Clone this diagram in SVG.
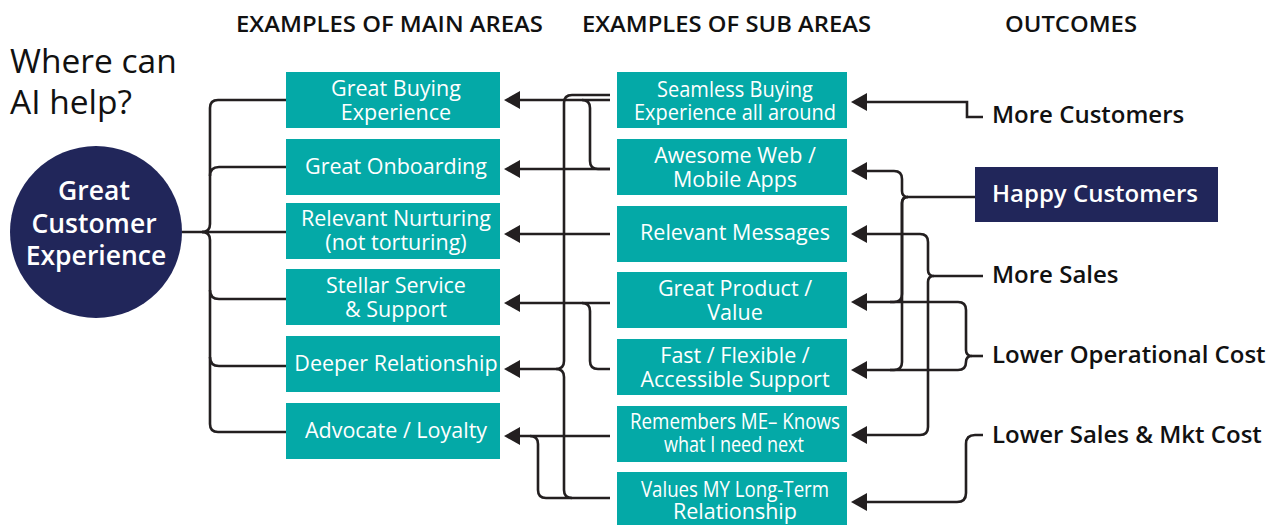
<svg xmlns="http://www.w3.org/2000/svg" width="1277" height="525" viewBox="0 0 1277 525">
<style>
.hdr{font-family:"Open Sans","Liberation Sans",sans-serif;font-size:22px;font-weight:600;fill:#111;text-anchor:middle}
.box{fill:#04a9a7}
.bt{font-family:"Open Sans","Liberation Sans",sans-serif;font-size:21.5px;fill:#fff;text-anchor:middle}
.ct{font-family:"Open Sans","Liberation Sans",sans-serif;font-size:26.5px;font-weight:600;fill:#fff;text-anchor:middle}
.out{font-family:"Open Sans","Liberation Sans",sans-serif;font-size:24px;font-weight:600;fill:#111}
.ttl{font-family:"Open Sans","Liberation Sans",sans-serif;font-size:33.5px;fill:#111}
.ln{fill:none;stroke:#231f20;stroke-width:2.6}
.ar{marker-end:url(#ah)}
</style>
<defs>
<marker id="ah" markerUnits="userSpaceOnUse" markerWidth="16" markerHeight="18" refX="11" refY="9" orient="auto" viewBox="0 0 16 18">
<path d="M0,0 L16,9 L0,18 z" fill="#231f20"/>
</marker>
</defs>
<rect width="1277" height="525" fill="#fff"/>

<g id="headers">
<text class="hdr" x="389.5" y="32" textLength="307" lengthAdjust="spacingAndGlyphs">EXAMPLES OF MAIN AREAS</text>
<text class="hdr" x="726.5" y="32" textLength="289" lengthAdjust="spacingAndGlyphs">EXAMPLES OF SUB AREAS</text>
<text class="hdr" x="1071" y="32" textLength="132" lengthAdjust="spacingAndGlyphs">OUTCOMES</text>
</g>

<g id="title">
<text class="ttl" x="10" y="73">Where can</text>
<text class="ttl" x="10" y="114">AI help?</text>
</g>

<g id="connectors">
<!-- left tree -->
<path class="ln" d="M182,232 H286" stroke-width="3.2"/>
<path class="ln" d="M286,100 H218 Q210,100 210,108 V224 Q210,232 202,232"/>
<path class="ln" d="M202,232 Q210,232 210,240 V424 Q210,432 218,432 H286"/>
<path class="ln" d="M210,176 Q210,167 219,167 H286"/>
<path class="ln" d="M210,290 Q210,299 219,299 H286"/>
<path class="ln" d="M210,357 Q210,366 219,366 H286"/>
<!-- middle -->
<path class="ln ar" d="M610,100 H509"/>
<path class="ln" d="M610,95 H572 Q564,95 564,103 V361 Q564,369 556,369"/>
<path class="ln ar" d="M556,369 H509"/>
<path class="ln" d="M556,369 Q564,369 564,377 V490 Q564,498 572,498"/>
<path class="ln" d="M610,169 H598 Q590,169 590,161 V108 Q590,100 582,100"/>
<path class="ln ar" d="M610,169 H509"/>
<path class="ln ar" d="M610,234 H509"/>
<path class="ln ar" d="M610,303 H509"/>
<path class="ln" d="M610,369 H598 Q590,369 590,361 V311 Q590,303 582,303"/>
<path class="ln ar" d="M610,436 H509"/>
<path class="ln" d="M610,498 H546 Q538,498 538,490 V444 Q538,436 530,436"/>
<!-- right -->
<path class="ln ar" d="M983,117 H967 V102 H856"/>
<path class="ln" d="M975,197 H908"/>
<path class="ln ar" d="M908,197 Q902,197 902,191 V179 Q902,171 894,171 H856"/>
<path class="ln ar" d="M908,197 Q902,197 902,203 V294 Q902,302 894,302 H856"/>
<path class="ln ar" d="M908,197 Q902,197 902,203 V362 Q902,370 894,370 H856"/>
<path class="ln" d="M983,276 H934"/>
<path class="ln ar" d="M934,276 Q928,276 928,270 V242 Q928,234 920,234 H856"/>
<path class="ln ar" d="M934,276 Q928,276 928,282 V427 Q928,435 920,435 H856"/>
<path class="ln" d="M983,356 H972"/>
<path class="ln" d="M972,356 Q966,356 966,350 V310 Q966,302 958,302 H890"/>
<path class="ln" d="M972,356 Q966,356 966,362 Q966,370 958,370 H890"/>
<path class="ln ar" d="M983,435 H975 Q966,435 966,444 V493 Q966,502 957,502 H856"/>
</g>

<g id="root">
<circle cx="96" cy="232" r="86" fill="#21265a"/>
<text class="ct" x="94" y="200">Great</text>
<text class="ct" x="94" y="233">Customer</text>
<text class="ct" x="96" y="265">Experience</text>
</g>

<g id="main1"><rect class="box" x="286" y="72" width="214" height="56"/><text class="bt" x="396" y="96">Great Buying</text><text class="bt" x="396" y="120">Experience</text></g>
<g id="main2"><rect class="box" x="286" y="139" width="214" height="56"/><text class="bt" x="396" y="174">Great Onboarding</text></g>
<g id="main3"><rect class="box" x="286" y="203" width="214" height="56"/><text class="bt" x="396" y="226">Relevant Nurturing</text><text class="bt" x="396" y="250">(not torturing)</text></g>
<g id="main4"><rect class="box" x="286" y="269" width="214" height="56"/><text class="bt" x="396" y="293">Stellar Service</text><text class="bt" x="396" y="317">&amp; Support</text></g>
<g id="main5"><rect class="box" x="286" y="336" width="214" height="56"/><text class="bt" x="396" y="371">Deeper Relationship</text></g>
<g id="main6"><rect class="box" x="286" y="403" width="214" height="56"/><text class="bt" x="396" y="438">Advocate / Loyalty</text></g>

<g id="sub1"><rect class="box" x="617" y="72" width="230" height="56"/><text class="bt" x="735" y="97" textLength="156" lengthAdjust="spacingAndGlyphs">Seamless Buying</text><text class="bt" x="735" y="120" textLength="202" lengthAdjust="spacingAndGlyphs">Experience all around</text></g>
<g id="sub2"><rect class="box" x="617" y="139" width="230" height="56"/><text class="bt" x="735" y="163">Awesome Web /</text><text class="bt" x="735" y="187">Mobile Apps</text></g>
<g id="sub3"><rect class="box" x="617" y="206" width="230" height="56"/><text class="bt" x="735" y="240">Relevant Messages</text></g>
<g id="sub4"><rect class="box" x="617" y="272" width="230" height="56"/><text class="bt" x="735" y="296">Great Product /</text><text class="bt" x="735" y="320">Value</text></g>
<g id="sub5"><rect class="box" x="617" y="339" width="230" height="56"/><text class="bt" x="735" y="363">Fast / Flexible /</text><text class="bt" x="735" y="387">Accessible Support</text></g>
<g id="sub6"><rect class="box" x="617" y="406" width="230" height="56"/><text class="bt" x="735" y="429" textLength="210" lengthAdjust="spacingAndGlyphs">Remembers ME– Knows</text><text class="bt" x="734" y="452" textLength="140" lengthAdjust="spacingAndGlyphs">what I need next</text></g>
<g id="sub7"><rect class="box" x="617" y="472" width="230" height="60"/><text class="bt" x="735" y="497" textLength="188" lengthAdjust="spacingAndGlyphs">Values MY Long-Term</text><text class="bt" x="735" y="519">Relationship</text></g>

<g id="out1"><text class="out" x="992" y="123">More Customers</text></g>
<g id="out2"><rect x="975" y="167" width="243" height="55" fill="#21265a"/><text class="out" x="992" y="202" style="fill:#fff">Happy Customers</text></g>
<g id="out3"><text class="out" x="992" y="283">More Sales</text></g>
<g id="out4"><text class="out" x="992" y="363">Lower Operational Cost</text></g>
<g id="out5"><text class="out" x="992" y="443">Lower Sales &amp; Mkt Cost</text></g>
</svg>
